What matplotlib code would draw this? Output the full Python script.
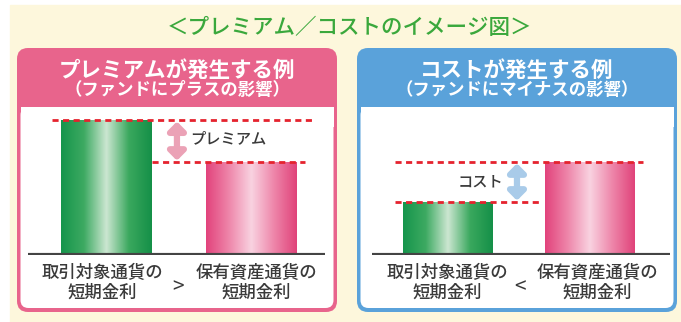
import numpy as np
import matplotlib
matplotlib.use("Agg")
import matplotlib.pyplot as plt
from matplotlib.patches import FancyBboxPatch, Rectangle
from matplotlib.colors import LinearSegmentedColormap

plt.rcParams['font.family'] = ['Noto Sans CJK JP', 'DejaVu Sans']

# data (relative short-term rates, arbitrary units)
title = "＜プレミアム／コストのイメージ図＞"
panel_titles = ["プレミアムが発生する例", "コストが発生する例"]
panel_subtitles = ["（ファンドにプラスの影響）", "（ファンドにマイナスの影響）"]
bar_labels = ["取引対象通貨の\n短期金利", "保有資産通貨の\n短期金利"]
premium_rates = [2.9, 2.0]   # target currency, held asset currency
cost_rates = [1.14, 2.0]
gap_labels = ["プレミアム", "コスト"]
signs = [">", "<"]

cream = "#fdf7dc"
pink = "#e8648c"
blue = "#5aa2da"
green_title = "#3aa83c"
red_dash = "#e5232e"
text_col = "#3a3a3a"

green_cmap = LinearSegmentedColormap.from_list(
    "g", ["#16954c", "#3daa62", "#cde7d2", "#3aa85e", "#159048"])
pink_cmap = LinearSegmentedColormap.from_list(
    "p", ["#e2437c", "#ee86aa", "#f9d3e1", "#ee86aa", "#e0437a"])

fig = plt.figure(figsize=(6.81, 3.22), dpi=100)
bg = fig.add_axes([0, 0, 1, 1])
bg.set_xlim(0, 681)
bg.set_ylim(322, 0)
bg.axis("off")

bg.add_patch(Rectangle((10, 5), 671, 317, color=cream, zorder=0))
bg.text(350, 28, title, color=green_title, fontsize=15.5, ha="center",
        va="center", fontweight="medium")

# panels
for x0, col, head, sub in [(17, pink, panel_titles[0], panel_subtitles[0]),
                           (357, blue, panel_titles[1], panel_subtitles[1])]:
    w = 320
    bg.add_patch(FancyBboxPatch((x0, 48), w, 264, boxstyle="round,pad=0,rounding_size=11",
                                fc=col, ec="none", zorder=1))
    bg.add_patch(FancyBboxPatch((x0 + 3.5, 107), w - 7, 201,
                                boxstyle="round,pad=0,rounding_size=8",
                                fc="white", ec="none", zorder=2))
    bg.add_patch(Rectangle((x0 + 3.5, 107), w - 7, 20, fc="white", ec="none", zorder=2))
    cx = x0 + w / 2
    bg.text(cx, 71, head, color="white", fontsize=15.5, fontweight="bold",
            ha="center", va="center", zorder=3)
    bg.text(cx, 90, sub, color="white", fontsize=12.5, fontweight="bold",
            ha="center", va="center", zorder=3)

# bottom labels
for lx, rx, sx, s in [(102, 256, 178, signs[0]), (447, 597, 520, signs[1])]:
    bg.text(lx, 283, bar_labels[0], fontsize=12.5, color=text_col, ha="center",
            va="center", linespacing=1.15, fontweight="medium", zorder=3)
    bg.text(rx, 283, bar_labels[1], fontsize=12.5, color=text_col, ha="center",
            va="center", linespacing=1.15, fontweight="medium", zorder=3)
    bg.text(sx, 287, s, fontsize=15, color=text_col, ha="center", va="center", zorder=3)


def bar_axes(x_left, x_right, xlim):
    h = 3.2 * 46.5
    ax = fig.add_axes([x_left / 681, 67 / 322, (x_right - x_left) / 681, h / 322])
    ax.patch.set_alpha(0)
    ax.axis("off")
    return ax, xlim


def gradient_bars(ax, pos, vals, width):
    bars = ax.bar(pos, vals, width=width, color="none", zorder=2)
    grad = np.linspace(0, 1, 128).reshape(1, -1)
    for b, cm in zip(bars, [green_cmap, pink_cmap]):
        x, w, h = b.get_x(), b.get_width(), b.get_height()
        im = ax.imshow(grad, cmap=cm, extent=[x, x + w, 0, h], aspect="auto", zorder=2)
        im.set_clip_path(b)
    return bars


# left panel: premium
ax1, xl1 = bar_axes(28, 325, (-0.525, 1.475))
b1 = gradient_bars(ax1, [0, 0.98], premium_rates, 0.61)
ax1.axhline(0, color="#444444", lw=3, zorder=3)
ax1.plot([-0.363, 1.387], [premium_rates[0]] * 2, color=red_dash, lw=2,
         dashes=(2.2, 1.6), zorder=4)
ax1.plot([0.31, 1.34], [premium_rates[1]] * 2, color=red_dash, lw=2,
         dashes=(2.2, 1.6), zorder=4)
ax1.annotate("", xy=(0.478, premium_rates[0]), xytext=(0.478, premium_rates[1]),
             arrowprops=dict(arrowstyle="<|-|>,head_length=0.5,head_width=0.5",
                             color="#eba2b6", lw=4.5, shrinkA=1, shrinkB=1), zorder=4)
ax1.text(0.566, (premium_rates[0] + premium_rates[1]) / 2 + 0.05, gap_labels[0],
         fontsize=11, color=text_col, ha="left", va="center", fontweight="medium")
ax1.set_xlim(*xl1)
ax1.set_ylim(0, 3.2)

# right panel: cost
ax2, xl2 = bar_axes(372, 670, (-0.51, 1.49))
b2 = gradient_bars(ax2, [0, 0.953], cost_rates, 0.6)
ax2.axhline(0, color="#444444", lw=3, zorder=3)
ax2.plot([-0.356, 1.31], [cost_rates[1]] * 2, color=red_dash, lw=2,
         dashes=(2.2, 1.6), zorder=4)
ax2.plot([-0.356, 0.62], [cost_rates[0]] * 2, color=red_dash, lw=2,
         dashes=(2.2, 1.6), zorder=4)
ax2.annotate("", xy=(0.463, cost_rates[1]), xytext=(0.463, cost_rates[0]),
             arrowprops=dict(arrowstyle="<|-|>,head_length=0.5,head_width=0.5",
                             color="#a9cbe9", lw=4.5, shrinkA=1, shrinkB=1), zorder=4)
ax2.text(0.215, (cost_rates[0] + cost_rates[1]) / 2, gap_labels[1],
         fontsize=11, color=text_col, ha="center", va="center", fontweight="medium")
ax2.set_xlim(*xl2)
ax2.set_ylim(0, 3.2)

fig.savefig("out.png", dpi=100)
